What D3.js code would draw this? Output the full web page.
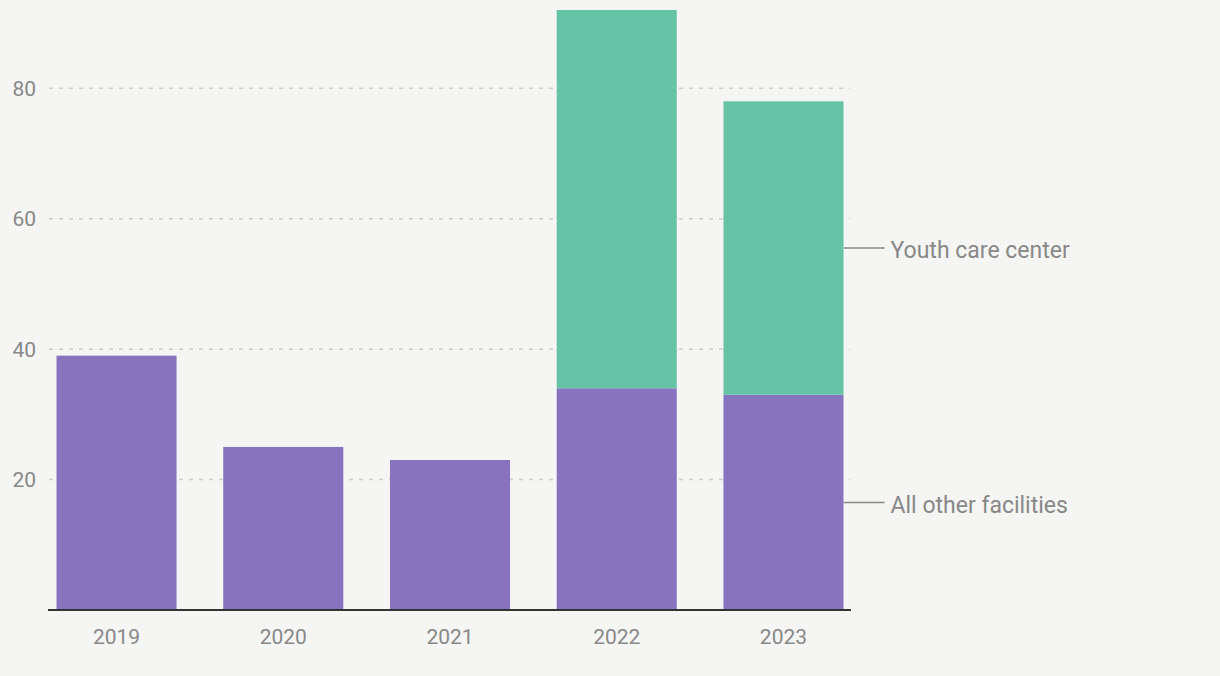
<!DOCTYPE html>
<html><head><meta charset="utf-8">
<script src="https://cdn.jsdelivr.net/npm/d3@7"></script>
<style>
html,body{margin:0;padding:0;background:#f5f5f3;}
svg{display:block;font-family:Roboto,"Noto Sans",sans-serif;}
</style></head>
<body>
<svg id="chart" width="1220" height="676"></svg>
<script>
const years = ["2019","2020","2021","2022","2023"];
const allOther = [39, 25, 23, 34, 33];
const youthCare = [0, 0, 0, 58, 45];
const yTicks = [20, 40, 60, 80];
const seriesNames = ["All other facilities", "Youth care center"];
const colors = ["#8873be", "#66c3a5"];

const svg = d3.select("#chart");
const x = d3.scaleBand().domain(years).range([49, 851]).paddingInner(0.28).paddingOuter(0.045);
const maxTotal = d3.max(years, (d, i) => allOther[i] + youthCare[i]);
const y = d3.scaleLinear().domain([0, maxTotal]).range([610, 10]);

// grid
svg.append("g").selectAll("line").data(yTicks).join("line")
  .attr("x1", 49).attr("x2", 850)
  .attr("y1", d => y(d)).attr("y2", d => y(d))
  .attr("stroke", "#cccccc").attr("stroke-width", 1.5).attr("stroke-dasharray", "4,6");

svg.append("g").selectAll("text").data(yTicks).join("text")
  .attr("x", 36).attr("y", d => y(d)).attr("dy", "0.36em")
  .attr("text-anchor", "end").attr("fill", "#888").attr("font-size", 21)
  .text(d => d);

const table = years.map((yr, i) => ({year: yr, a: allOther[i], b: youthCare[i]}));
const stack = d3.stack().keys(["a", "b"])(table);

svg.append("g").selectAll("g").data(stack).join("g")
  .attr("fill", (d, i) => colors[i])
  .selectAll("rect").data(d => d).join("rect")
  .attr("x", d => x(d.data.year)).attr("width", x.bandwidth())
  .attr("y", d => y(d[1])).attr("height", d => y(d[0]) - y(d[1]));

// x axis
svg.append("line").attr("x1", 48).attr("x2", 851).attr("y1", 610).attr("y2", 610)
  .attr("stroke", "#333").attr("stroke-width", 2);
svg.append("g").selectAll("text").data(years).join("text")
  .attr("x", d => x(d) + x.bandwidth() / 2).attr("y", 636).attr("dy", "0.36em")
  .attr("text-anchor", "middle").attr("fill", "#888").attr("font-size", 21)
  .text(d => d);

// labels
const last = stack.map(s => s[s.length - 1]);
const lx = x(years[years.length - 1]) + x.bandwidth();
const lab = svg.append("g");
last.forEach((d, i) => {
  const ym = (y(d[0]) + y(d[1])) / 2;
  lab.append("line").attr("x1", lx).attr("x2", lx + 41).attr("y1", ym).attr("y2", ym)
    .attr("stroke", "#888").attr("stroke-width", 1.5);
  lab.append("text").attr("x", lx + 47).attr("y", ym + 1).attr("dy", "0.4em")
    .attr("fill", "#888").attr("font-size", 23).text(seriesNames[i]);
});
</script>
</body></html>
